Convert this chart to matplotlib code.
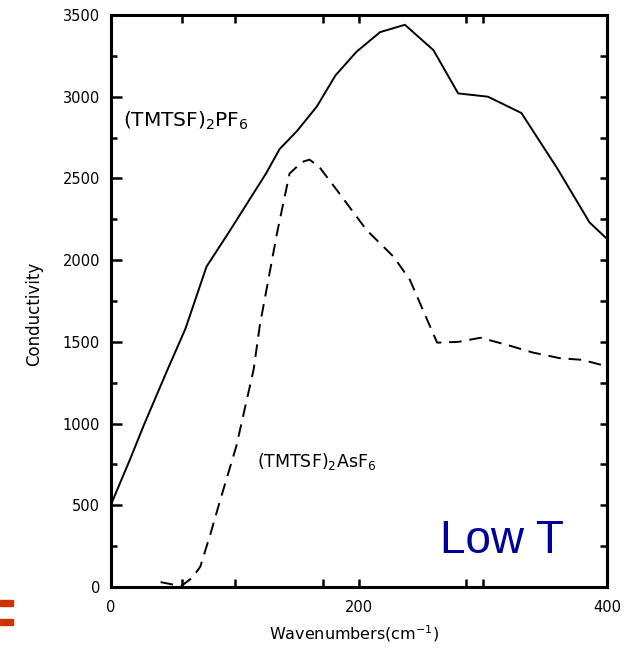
import matplotlib
matplotlib.use('Agg')
import matplotlib.pyplot as plt
from matplotlib.patches import Rectangle

# (TMTSF)2PF6, solid curve
pf6_x = [0, 15, 27, 45, 60, 77, 95, 110, 125, 136, 150, 166, 181, 198, 217, 237,
         260, 280, 304, 331, 360, 386, 400]
pf6_y = [505, 775, 1000, 1320, 1580, 1960, 2170, 2350, 2530, 2680, 2790, 2940,
         3130, 3275, 3395, 3440, 3285, 3020, 3000, 2900, 2560, 2230, 2130]

# (TMTSF)2AsF6, dashed curve
asf6_x = [40, 50, 57, 66, 72, 80, 88, 101, 115, 120, 134, 144, 154, 160, 168, 182,
          206, 228, 241, 257, 263, 280, 298, 320, 340, 362, 380, 400]
asf6_y = [30, 15, 8, 60, 125, 320, 530, 860, 1330, 1600, 2170, 2530, 2600, 2615,
          2570, 2430, 2185, 2020, 1880, 1600, 1495, 1500, 1525, 1480, 1435, 1400,
          1390, 1350]

xticks_major = [0, 200, 400]
xticks_minor = [57, 100, 171, 286, 300]
yticks_major = list(range(0, 3501, 500))
yticks_minor = list(range(250, 3500, 500))

fig = plt.figure(figsize=(6.29, 6.48), dpi=100)
ax = fig.add_axes([0.1765, 0.0941, 0.965 - 0.1765, 0.9769 - 0.0941])

ax.plot(pf6_x, pf6_y, color='black', lw=1.4)
ax.plot(asf6_x, asf6_y, color='black', lw=1.4, dashes=(6.5, 4))

ax.set_xlim(0, 400)
ax.set_ylim(0, 3500)
ax.set_xticks(xticks_major)
ax.set_xticks(xticks_minor, minor=True)
ax.set_yticks(yticks_major)
ax.set_yticks(yticks_minor, minor=True)

for s in ax.spines.values():
    s.set_linewidth(2.2)

ax.tick_params(axis='both', which='both', direction='in', width=1.8,
               labelsize=10.5, top=True)
ax.tick_params(axis='y', which='major', length=8, pad=8)
ax.tick_params(axis='y', which='minor', length=4)
ax.tick_params(axis='x', which='both', length=6, pad=9)

# right side ticks every 250, all the same length
ax2 = ax.secondary_yaxis('right')
ax2.set_yticks(yticks_major + yticks_minor)
ax2.tick_params(direction='in', length=5, width=1.8, labelright=False)
ax2.spines['right'].set_linewidth(2.2)

ax.set_xlabel('Wavenumbers(cm$^{-1}$)', fontsize=11.5)
ax.xaxis.set_label_coords(0.49, -0.064)
ax.set_ylabel('Conductivity', fontsize=12)
ax.yaxis.set_label_coords(-0.137, 0.477)

ax.text(10, 2815, '(TMTSF)$_2$PF$_6$', fontsize=14.5, va='baseline')
ax.text(118, 734, '(TMTSF)$_2$AsF$_6$', fontsize=12.5, va='baseline')
ax.text(265, 208, 'Low T', fontsize=33, color='#000099',
        family='Liberation Sans', va='baseline')

# orange marks at left edge
for y0 in [600, 619]:
    fig.patches.append(Rectangle((0, 1 - (y0 + 6) / 648), 13 / 629, 6 / 648,
                                 transform=fig.transFigure, color='#cc3300'))

plt.savefig('out.png', dpi=100)
